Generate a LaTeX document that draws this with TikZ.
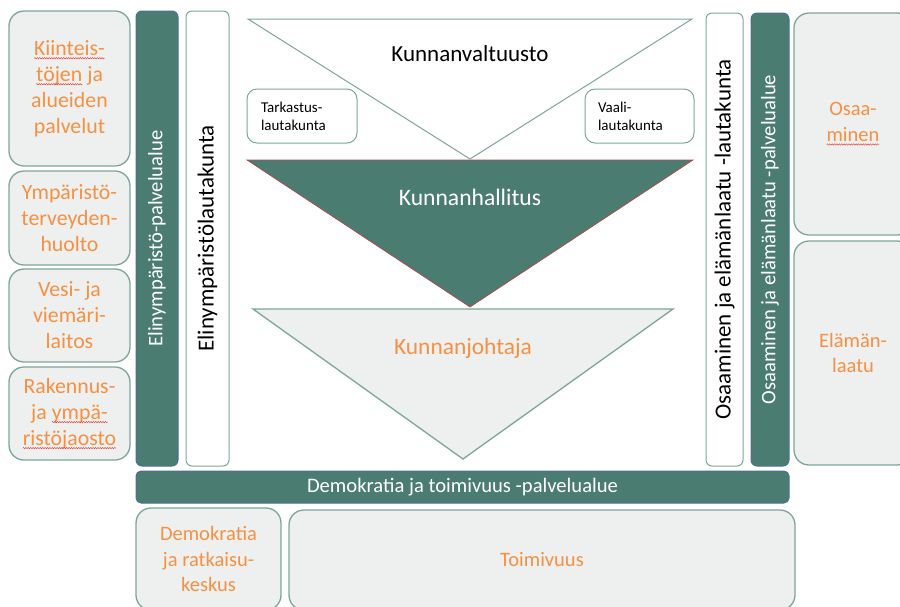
\documentclass[tikz,border=0pt]{standalone}
\usepackage{fontspec}
\setmainfont{Carlito}
\usetikzlibrary{decorations.pathmorphing}

\definecolor{tealfill}{HTML}{4A7C72}
\definecolor{pale}{HTML}{EDF0EE}
\definecolor{edge}{HTML}{7EA59B}
\definecolor{areaedge}{HTML}{4E6F96}
\definecolor{orangetxt}{HTML}{F79042}
\definecolor{hallitusedge}{HTML}{B8484C}
\definecolor{spellred}{HTML}{E2403C}

% red spell-check line under a word
\newcommand{\sq}[1]{\tikz[baseline=(w.base)]{\node[inner sep=0pt,outer sep=0pt,minimum width=0pt,minimum height=0pt,draw=none,fill=none] (w) {#1};
  \draw[spellred,line width=0.45pt,sharp corners,decorate,decoration={snake,amplitude=0.7pt,segment length=2.4pt}] ([yshift=-3pt]w.base west) -- ([yshift=-3pt]w.base east);}}

\begin{document}
\begin{tikzpicture}[x=1pt,y=-1pt,
  unit/.style={draw=edge,fill=pale,line width=1.3pt,rounded corners=15pt,inner sep=0pt,text=orangetxt,align=center,font=\fontsize{20.5}{25.6}\selectfont},
  bigunit/.style={unit,font=\fontsize{21.8}{26}\selectfont},
  area/.style={draw=areaedge,fill=tealfill,line width=1pt,rounded corners=6pt,inner sep=0pt,text=white,font=\fontsize{20.6}{25}\selectfont},
  board/.style={draw=edge,fill=white,line width=1pt,rounded corners=6pt,inner sep=0pt,font=\fontsize{23}{28}\selectfont},
  sub/.style={draw=edge,fill=white,line width=1pt,rounded corners=10pt,inner sep=0pt,align=left,font=\fontsize{15}{18}\selectfont}]

\useasboundingbox (0,0) rectangle (900,606);

% triangles
\draw[draw=edge,fill=white,line width=1pt] (248,19) -- (692,19) -- (470,159) -- cycle;
\draw[draw=hallitusedge,fill=tealfill,line width=0.7pt] (247,160) -- (693,160) -- (470,307) -- cycle;
\draw[draw=edge,fill=pale,line width=1.3pt] (253,309) -- (673,309) -- (463,459) -- cycle;

\node (valtuusto) at (470,54) [font=\fontsize{23}{28}\selectfont] {Kunnanvaltuusto};
\node (hallitus) at (470,197) [text=white,font=\fontsize{23.6}{28}\selectfont] {Kunnanhallitus};
\node (johtaja) at (463,348) [text=orangetxt,font=\fontsize{23.4}{28}\selectfont] {Kunnanjohtaja};

\node[sub,minimum width=110pt,minimum height=54pt,text width=82pt] (tarkastus) at (302,116) {Tarkastus-\\lautakunta};
\node[sub,minimum width=109pt,minimum height=54pt,text width=83pt] (vaali) at (639.5,116) {Vaali-\\lautakunta};

% left side
\node[bigunit,minimum width=121pt,minimum height=155pt] (kiinteistot) at (69.5,88.5) {\sq{Kiinteis-}\\\sq{töjen} ja\\alueiden\\palvelut};
\node[bigunit,minimum width=121pt,minimum height=94pt] (terveys) at (69.5,218) {Ympäristö-\\terveyden-\\huolto};
\node[bigunit,minimum width=121pt,minimum height=93pt] (vesi) at (69.5,315.5) {Vesi- ja\\viemäri-\\laitos};
\node[bigunit,minimum width=121pt,minimum height=93pt] (jaosto) at (69.5,413.5) {Rakennus-\\ja \sq{ympä-}\\\sq{ristöjaosto}};

\node[area,rotate=90,minimum width=455pt,minimum height=42pt] (elinalue) at (157,238.5) {Elinympäristö-palvelualue};
\node[board,rotate=90,minimum width=455pt,minimum height=43pt] (elinlautakunta) at (207.5,238.5) {Elinympäristölautakunta};

% right side
\node[board,rotate=90,minimum width=453pt,minimum height=37pt] (osaalautakunta) at (724.5,239.5) {Osaaminen ja elämänlaatu -lautakunta};
\node[area,rotate=90,minimum width=453pt,minimum height=38pt] (osaaalue) at (770,239.5) {Osaaminen ja elämänlaatu -palvelualue};

\node[unit,minimum width=118pt,minimum height=222pt] (osaaminen) at (853,124) {Osaa-\\\sq{minen}};
\node[unit,minimum width=118pt,minimum height=224pt] (elamanlaatu) at (853,353) {Elämän-\\laatu};

% bottom
\node[area,rounded corners=5pt,minimum width=653pt,minimum height=32pt] (demoalue) at (462.5,487) {Demokratia ja toimivuus -palvelualue};
\node[unit,minimum width=145pt,minimum height=102pt] (ratkaisu) at (208.5,559) {Demokratia\\ja ratkaisu-\\keskus};
\node[unit,minimum width=506pt,minimum height=100pt] (toimivuus) at (542,560) {Toimivuus};
\end{tikzpicture}
\end{document}
